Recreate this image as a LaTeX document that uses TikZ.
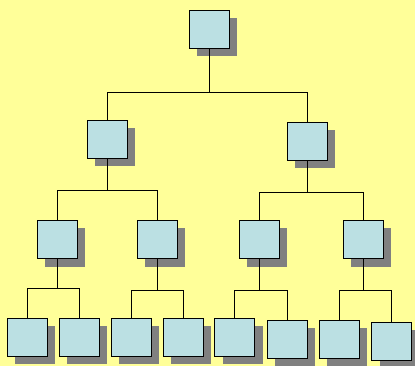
\documentclass[tikz,border=0pt]{standalone}
\usetikzlibrary{shadows}
\definecolor{bgyellow}{HTML}{FFFF99}
\definecolor{boxblue}{HTML}{BBE0E3}
\definecolor{shadowgray}{HTML}{808080}
\tikzset{
  orgbox/.style={draw=black, line width=0.8pt, fill=boxblue, minimum width=40pt, minimum height=38pt, inner sep=0pt,
    drop shadow={shadow xshift=8pt, shadow yshift=-8pt, fill=shadowgray, opacity=1}},
  link/.style={draw=black, line width=0.8pt}
}
\begin{document}
\begin{tikzpicture}[x=1pt, y=-1pt]
\fill[bgyellow] (0,0) rectangle (415,366);
\useasboundingbox (0,0) rectangle (415,366);
% nodes
\node[orgbox] (r) at (209,29) {};
\node[orgbox] (a) at (107,139.5) {};
\node[orgbox] (b) at (307,141) {};
\node[orgbox] (a1) at (57,239.5) {};
\node[orgbox] (a2) at (157,239.5) {};
\node[orgbox] (b1) at (259,239.5) {};
\node[orgbox] (b2) at (363,239.5) {};
\node[orgbox] (a11) at (27,337) {};
\node[orgbox] (a12) at (79,337) {};
\node[orgbox] (a21) at (131,337) {};
\node[orgbox] (a22) at (183,337) {};
\node[orgbox] (b11) at (234.5,337) {};
\node[orgbox] (b12) at (287,339) {};
\node[orgbox] (b21) at (339,339) {};
\node[orgbox] (b22) at (391.5,341) {};
% bus coordinates
\coordinate (br) at (0,92);
\coordinate (ba) at (0,190);
\coordinate (bb) at (0,192);
\coordinate (ba1) at (0,288);
\coordinate (ba2) at (0,290);
\coordinate (bb1) at (0,290);
\coordinate (bb2) at (0,290);
% connectors
\foreach \p/\c/\d/\bus in {r/a/b/br, a/a1/a2/ba, b/b1/b2/bb, a1/a11/a12/ba1, a2/a21/a22/ba2, b1/b11/b12/bb1, b2/b21/b22/bb2}{
  \draw[link] (\p.south) -- (\p.south |- \bus);
  \draw[link] (\c.north) -- (\c.north |- \bus) -- (\d.north |- \bus) -- (\d.north);
}
\end{tikzpicture}
\end{document}
